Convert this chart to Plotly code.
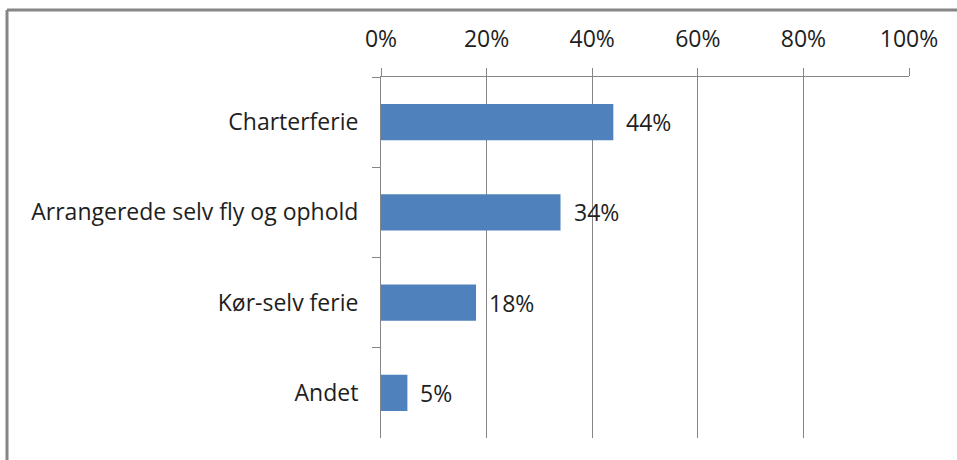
import plotly.graph_objects as go

categories = ["Charterferie", "Arrangerede selv fly og ophold", "Kør-selv ferie", "Andet"]
values = [44, 34, 18, 5]
x_ticks = [0, 20, 40, 60, 80, 100]
x_tick_labels = ["0%", "20%", "40%", "60%", "80%", "100%"]

W, H = 957, 460
L, R, T, B = 381, 909, 77, 438

fig = go.Figure()
fig.add_trace(go.Bar(
    y=categories, x=values, orientation="h",
    marker=dict(color="#4F81BD", line=dict(width=0)),
    width=0.4, hoverinfo="skip",
))

font = dict(family="Open Sans", size=23, color="#1e1e1e")

for c, v in zip(categories, values):
    fig.add_annotation(x=v, y=c, text=f"{v}%", showarrow=False,
                       xanchor="left", xshift=11, font=font)

grid = "#868686"

fig.update_layout(
    width=W, height=H,
    margin=dict(l=L, r=W - R, t=T, b=H - B, pad=0),
    paper_bgcolor="white", plot_bgcolor="white",
    showlegend=False, bargap=0.6,
    font=font,
    xaxis=dict(side="top", range=[0, 100], tickvals=x_ticks, ticktext=x_tick_labels,
               showgrid=True, gridcolor=grid, gridwidth=1,
               showline=True, linecolor=grid, linewidth=1,
               ticks="outside", ticklen=8, tickcolor=grid, tickwidth=1,
               zeroline=False, ticklabelstandoff=12, tickfont=font, fixedrange=True),
    yaxis=dict(categoryorder="array", categoryarray=categories, autorange="reversed",
               showline=True, linecolor=grid, linewidth=1,
               ticks="outside", ticklen=8, tickcolor=grid, tickwidth=1,
               tickson="boundaries", showgrid=False,
               ticklabelstandoff=17, tickfont=font, fixedrange=True),
)

# chart frame (top and left edges visible)
px = lambda p: (p - L) / (R - L)
py = lambda p: (B - p) / (B - T)
fig.add_shape(type="line", xref="paper", yref="paper",
              x0=px(7), x1=px(W + 10), y0=py(10), y1=py(10),
              line=dict(color="#868686", width=3))
fig.add_shape(type="line", xref="paper", yref="paper",
              x0=px(7), x1=px(7), y0=py(10), y1=py(H + 10),
              line=dict(color="#868686", width=3))

fig.write_html("out.html", config={"displayModeBar": False},
               post_script="document.body.style.margin='0';document.body.style.overflow='hidden';")
